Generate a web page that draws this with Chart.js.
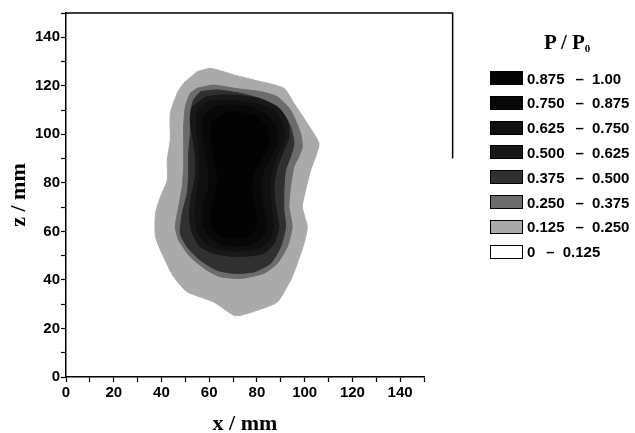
<!DOCTYPE html>
<html>
<head>
<meta charset="utf-8">
<script src="https://cdn.jsdelivr.net/npm/chart.js@4.4.1/dist/chart.umd.min.js"></script>
<style>
    html, body { margin: 0; padding: 0; background: #fff; }
    #wrap { position: relative; width: 635px; height: 433px; }
    #legend { position: absolute; left: 490px; top: 30px; font-family: 'Liberation Sans', Arial, sans-serif; font-weight: bold; font-size: 15px; color: #000; }
    #legend .ttl { font-family: 'Liberation Serif', 'Times New Roman', serif; font-size: 21px; position: absolute; left: 46px; top: 0px; white-space: nowrap; }
    #legend .ttl sub { font-size: 11px; vertical-align: -3px; }
    #legend .row { position: absolute; left: 0; height: 16px; display: flex; align-items: center; white-space: nowrap; }
    #legend .box { width: 33px; height: 14px; border: 1px solid #000; box-sizing: border-box; margin-right: 4px; }
    #legend .dash { display: inline-block; margin: 0 8px 0 11px; }
</style>
</head>
<body>
<div id="wrap">
    <canvas id="chart" width="635" height="433"></canvas>
    <div id="legend"></div>
</div>
<script>
// contour levels of P / P0
const levelLow = ['0.875', '0.750', '0.625', '0.500', '0.375', '0.250', '0.125', '0'];
const levelHigh = ['1.00', '0.875', '0.750', '0.625', '0.500', '0.375', '0.250', '0.125'];
const levelColors = ['#030303', '#090909', '#101010', '#181818', '#303030', '#6c6c6c', '#aaaaaa', '#ffffff'];

// contour lines (x / mm, z / mm), innermost first
const c0875x = [61, 66, 72, 79, 84, 85, 82.5, 79, 77.5, 79, 80, 77.5, 71.5, 65, 61.5, 60.5, 62.5, 63.5, 62, 60.5];
const c0875z = [105, 108.5, 109, 107.5, 103, 97, 91, 85, 78, 70, 63, 58.5, 57, 58, 61.5, 68, 75, 83, 91, 98];

const c075x = [58, 63, 70, 78, 84, 88, 88.5, 86, 83, 81.5, 82.5, 84, 82, 77, 70, 64, 60, 57.5, 57.5, 59.5, 60, 59, 57.5, 57];
const c075z = [108, 111.5, 112, 111, 108, 103, 97, 91, 86, 79, 71, 63, 57.5, 54.5, 54, 55, 58, 63, 70, 77, 84, 91, 98, 104];

const c0625x = [55, 60, 69, 79, 86.5, 90.5, 91.5, 89.5, 86.5, 85.5, 86, 87, 85, 81, 75, 69, 63, 58, 55, 54, 54.5, 56, 56, 55, 54.5];
const c0625z = [110, 113.5, 114, 113, 110, 105, 99, 93.5, 86.5, 78.5, 70, 62, 56, 53, 52, 52, 53, 55.5, 60, 66, 74, 82.5, 91, 99, 105];

const c05x = [52.9, 59.1, 68.9, 80.1, 88.5, 92.7, 93.4, 91.3, 88.5, 87.1, 87.8, 89.2, 87.1, 82.9, 75.9, 68.9, 61.9, 56.3, 52.9, 51.7, 52.5, 54.2, 54.2, 53.0, 52.1];
const c05z = [111.4, 115.5, 116.2, 114.9, 111.4, 105.9, 99.0, 93.5, 86.6, 78.4, 70.1, 61.9, 55.0, 51.0, 49.8, 49.8, 51.0, 53.6, 59.2, 66.0, 74.3, 82.5, 90.8, 99.0, 105.9];

const c0375x = [56.4, 63.3, 73.1, 82.9, 89.9, 94.1, 95.5, 94.1, 92.0, 91.3, 91.3, 92.0, 89.9, 85.7, 78.7, 70.3, 63.3, 56.3, 50.8, 47.9, 48.7, 50.8, 51.4, 51.4, 52.1, 52.1, 53.5];
const c0375z = [117.6, 118.3, 116.9, 114.2, 110.0, 103.1, 96.3, 90.8, 85.3, 77.0, 68.8, 61.9, 53.6, 46.8, 43.3, 42.7, 44.0, 48.1, 53.6, 59.2, 67.4, 75.7, 83.9, 92.2, 100.4, 108.7, 114.2];

const c025x = [54.9, 61.9, 70.3, 81.5, 88.5, 94.1, 98.3, 99.0, 97.6, 95.5, 94.1, 93.4, 94.8, 92.7, 88.5, 82.9, 73.1, 64.7, 59.1, 52.1, 47.2, 45.8, 47.2, 48.7, 49.3, 49.3, 49.3, 50.0, 52.1];
const c025z = [119.0, 120.3, 119.0, 117.6, 115.5, 110.0, 100.4, 94.9, 90.8, 86.6, 78.4, 70.1, 61.9, 53.6, 46.8, 42.7, 40.6, 41.3, 44.0, 49.5, 56.4, 61.9, 70.1, 78.4, 86.6, 94.9, 103.1, 111.4, 116.9];

const c0125x = [54.9, 60.5, 70.3, 78.7, 91.3, 95.5, 101.1, 106.0, 104.6, 102.5, 100.4, 99.0, 101.1, 99.7, 96.9, 94.1, 88.5, 80.1, 73.1, 70.3, 61.9, 50.8, 45.1, 40.9, 37.5, 37.5, 39.6, 42.4, 42.4, 43.7, 43.7, 46.6, 49.3];
const c0125z = [125.8, 127.2, 124.5, 122.4, 119.0, 112.8, 104.5, 96.3, 90.8, 85.3, 77.0, 70.1, 61.9, 55.0, 46.8, 39.9, 30.9, 27.5, 25.4, 25.4, 30.9, 35.1, 41.3, 49.5, 57.8, 67.4, 74.3, 81.1, 89.4, 97.6, 108.7, 116.9, 121.0];

const contoursX = [c0875x, c075x, c0625x, c05x, c0375x, c025x, c0125x];
const contoursZ = [c0875z, c075z, c0625z, c05z, c0375z, c025z, c0125z];

// axis ticks
const xTickLabels = [0, 20, 40, 60, 80, 100, 120, 140];
const zTickLabels = [0, 20, 40, 60, 80, 100, 120, 140];

const toPoints = (xs, zs) => {
    const pts = xs.map((x, i) => ({ x: x, y: zs[i] }));
    pts.push({ x: xs[0], y: zs[0] });
    return pts;
};

const datasets = contoursX.map((xs, i) => ({
    label: levelLow[i] + ' - ' + levelHigh[i],
    data: toPoints(xs, contoursZ[i]),
    showLine: true,
    fill: 'shape',
    backgroundColor: levelColors[i],
    borderColor: levelColors[i],
    borderWidth: 1,
    pointRadius: 0,
    tension: 0.2
}));

// partial frame on top and right of the plot
const framePlugin = {
    id: 'framePlugin',
    afterDraw(chart) {
        const { ctx, chartArea } = chart;
        const xr = chart.scales.x.getPixelForValue(162);
        const yb = chart.scales.y.getPixelForValue(90);
        ctx.save();
        ctx.strokeStyle = '#000';
        ctx.lineWidth = 1.5;
        ctx.beginPath();
        ctx.moveTo(chartArea.left, chartArea.top);
        ctx.lineTo(xr, chartArea.top);
        ctx.lineTo(xr, yb);
        ctx.stroke();
        ctx.restore();
    }
};

const tickFont = { family: "'Liberation Sans', Arial, sans-serif", size: 15, weight: 'bold' };
const titleFont = { family: "'Liberation Serif', 'Times New Roman', serif", size: 22, weight: 'bold' };

new Chart(document.getElementById('chart'), {
    type: 'scatter',
    data: { datasets: datasets },
    options: {
        responsive: false,
        animation: false,
        layout: { padding: { top: 13, right: 211, left: 0, bottom: 0 } },
        plugins: { legend: { display: false }, tooltip: { enabled: false } },
        scales: {
            x: {
                min: 0, max: 150,
                grid: { drawOnChartArea: false, tickLength: 5, color: '#000', tickWidth: 1.2 },
                border: { color: '#000', width: 1.5 },
                ticks: {
                    stepSize: 10, autoSkip: false, maxRotation: 0, padding: 2,
                    color: '#000', font: tickFont,
                    callback: v => xTickLabels.includes(v) ? v : ''
                },
                title: { display: true, text: 'x / mm', color: '#000', font: { ...titleFont, lineHeight: 0.8 }, padding: 0 },
                afterFit: s => { s.height = 56; }
            },
            y: {
                min: 0, max: 150,
                grid: { drawOnChartArea: false, tickLength: 5, color: '#000', tickWidth: 1.2 },
                border: { color: '#000', width: 1.5 },
                ticks: {
                    stepSize: 10, autoSkip: false, padding: 1,
                    color: '#000', font: tickFont,
                    callback: v => zTickLabels.includes(v) ? v : ''
                },
                title: { display: true, text: 'z / mm', color: '#000', font: titleFont, padding: { top: 6, bottom: 0 } },
                afterFit: s => { s.width = 66; }
            }
        }
    },
    plugins: [framePlugin]
});

// legend built from the level arrays
const legend = document.getElementById('legend');
legend.innerHTML = '<div class="ttl" style="left:54px">P / P<sub>0</sub></div>';
levelLow.forEach((lo, i) => {
    const row = document.createElement('div');
    row.className = 'row';
    row.style.top = (40 + i * 24.8) + 'px';
    row.innerHTML = '<div class="box" style="background:' + levelColors[i] + '"></div>' +
        '<span>' + lo + '</span><span class="dash">–</span><span>' + levelHigh[i] + '</span>';
    legend.appendChild(row);
});
</script>
</body>
</html>
